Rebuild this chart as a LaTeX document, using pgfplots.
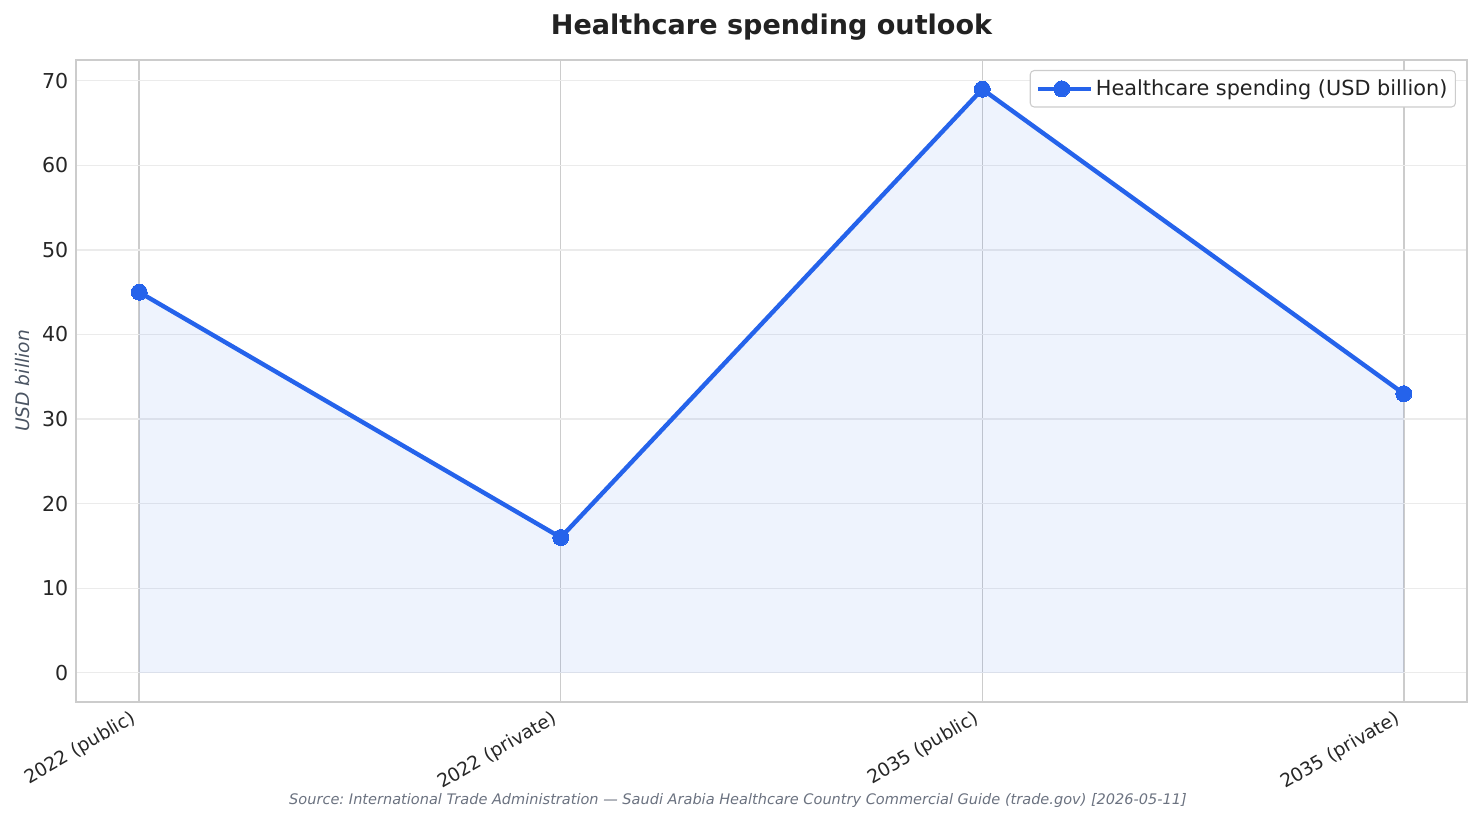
\documentclass[border=0pt]{standalone}
\usepackage{fontspec}
\setmainfont{DejaVu Sans}
\usepackage{pgfplots}
\pgfplotsset{compat=1.18}

\definecolor{lineblue}{HTML}{2563EB}
\definecolor{framegray}{HTML}{CCCCCC}
\definecolor{vgrid}{HTML}{CCCCCC}
\definecolor{hgrid}{HTML}{EBEBEB}
\definecolor{titlecol}{HTML}{222222}
\definecolor{tickcol}{HTML}{262626}
\definecolor{labelcol}{HTML}{4B5563}
\definecolor{srccol}{HTML}{6B7280}

\begin{document}
\frenchspacing
\begin{tikzpicture}
  % page = 1481 x 823 px, 1 px = 0.75pt, axis origin at px (76,702)
  \useasboundingbox (-57pt,-90.75pt) rectangle (1053.75pt,526.5pt);
  \begin{axis}[
    name=ax,
    at={(0,0)}, anchor=south west,
    scale only axis,
    width=1043.25pt, height=481.5pt,
    xmin=-0.15, xmax=3.15,
    ymin=-3.45, ymax=72.45,
    xtick={0,1,2,3},
    xticklabels={2022 (public),2022 (private),2035 (public),2035 (private)},
    ytick={0,10,...,70},
    major tick length=0pt,
    grid=major,
    x grid style={color=vgrid, line width=1.1pt},
    y grid style={color=hgrid, line width=1pt},
    axis line style={color=framegray, line width=1.1pt},
    /pgf/number format/assume math mode=true,
    tick label style={text=tickcol},
    yticklabel style={font=\fontsize{15.4}{18}\selectfont,
      anchor=east, inner sep=0pt, xshift=-5.6pt},
    xticklabel style={font=\fontsize{14}{17}\selectfont,
      inner sep=0pt, xshift=-7.2pt, yshift=-5.5pt, rotate=30, anchor=north east},
    legend style={
      at={(1,1)}, anchor=north east, xshift=-8.25pt, yshift=-7.5pt,
      draw=framegray, line width=0.8pt, rounded corners=3pt, fill=white,
      font=\fontsize{15.6}{18}\selectfont, text=titlecol,
      inner xsep=4pt, inner ysep=5pt,
    },
    legend cell align=left,
    legend image code/.code={%
      \path (-2pt,0pt) -- (38pt,0pt);
      \draw[mark repeat=2, mark phase=2, #1]
        plot coordinates {(0pt,0pt) (16pt,0pt) (32pt,0pt)};},
  ]
    \addplot[draw=none, fill=lineblue, fill opacity=0.08, forget plot]
      coordinates {(0,0) (0,45) (1,16) (2,69) (3,33) (3,0)};
    \addplot[color=lineblue, line width=3.3pt, mark=*, mark size=6pt,
      mark options={line width=0pt}]
      coordinates {(0,45) (1,16) (2,69) (3,33)};
    \addlegendentry{Healthcare spending (USD billion)}
  \end{axis}
  \node[anchor=base, text=titlecol, font=\fontsize{20.3}{24}\selectfont\bfseries]
    at ([yshift=18.75pt]ax.north) {Healthcare spending outlook};
  \node[rotate=90, text=labelcol, font=\fontsize{14}{17}\selectfont\itshape]
    at ([xshift=-39.75pt]ax.west) {USD billion};
  \node[anchor=base, text=srccol, font=\fontsize{10.9}{13}\selectfont\itshape]
    at ([xshift=496.5pt, yshift=-77.25pt]ax.south west)
    {Source: International Trade Administration — Saudi Arabia Healthcare Country Commercial Guide (trade.gov) [2026-05-11]};
\end{tikzpicture}
\end{document}
